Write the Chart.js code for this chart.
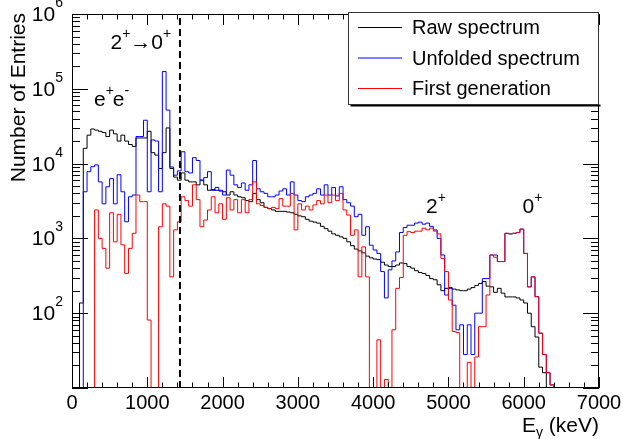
<!DOCTYPE html>
<html>
<head>
<meta charset="utf-8">
<title>Gamma spectrum</title>
<script src="https://cdn.jsdelivr.net/npm/chart.js"></script>
<style>
  html, body { margin: 0; padding: 0; background: #fff; }
  #wrap { width: 623px; height: 439px; }
</style>
</head>
<body>
<div id="wrap"><canvas id="spectrum" width="623" height="439"></canvas></div>
<script>
// ===================================
// DATA (50 keV bins, 0 - 7000 keV)
// ===================================

const binWidth = 50;
const seriesNames = ['Raw spectrum', 'Unfolded spectrum', 'First generation'];
const xTickLabels = [0, 1000, 2000, 3000, 4000, 5000, 6000, 7000];
const yTickExponents = [2, 3, 4, 5, 6];
const markerEnergy = 1434; // 2+ -> 0+ line

const rawCounts = [
  0, 0, 137, 16000, 24000, 29000, 28000, 27000, 26000, 23000,
  28000, 25000, 20000, 24000, 20000, 18000, 17000, 22000, 22000, 22000,
  27000, 14000, 13000, 8600, 14000, 30000, 8600, 6600, 6000, 7500,
  6000, 5700, 5700, 5200, 6000, 5200, 4400, 4500, 4400, 4300,
  4200, 3800, 4200, 3800, 3600, 3500, 3200, 3100, 4000, 3300,
  3000, 2600, 2500, 2400, 2300, 2300, 2300, 2250, 2200, 2100,
  2000, 1950, 1800, 1700, 1650, 1600, 1450, 1350, 1250, 1150,
  1100, 1050, 1000, 900, 800, 720, 680, 640, 580, 550,
  530, 520, 480, 440, 420, 420, 440, 470, 460, 420,
  400, 370, 350, 340, 320, 290, 280, 240, 200, 215,
  220, 210, 205, 200, 200, 210, 220, 235, 250, 265,
  230, 225, 190, 215, 185, 165, 165, 165, 160, 150,
  137, 100, 66, 48, 19, 16, 0, 0, 0, 0,
  0, 0, 0, 0, 0, 0, 0, 0, 0, 0
];

const unfoldedCounts = [
  0, 0, 0, 4200, 7800, 9100, 9600, 5700, 2900, 4900,
  6300, 2900, 7100, 4200, 1670, 3600, 3800, 23000, 23000, 38000,
  4200, 20700, 20000, 4200, 170000, 52000, 9000, 7000, 8000, 14400,
  7800, 7500, 12000, 11000, 6000, 6500, 7800, 4400, 4800, 4400,
  3800, 8200, 7000, 5200, 4800, 5500, 4400, 5200, 11000, 4600,
  4200, 4000, 3600, 3600, 3800, 4300, 4600, 3800, 5700, 3800,
  3200, 3100, 3600, 3800, 4000, 4600, 3800, 5200, 3800, 4800,
  3700, 4900, 3300, 3000, 2700, 1950, 2100, 1100, 1430, 810,
  700, 630, 360, 160, 380, 500, 660, 1200, 1400, 1500,
  1500, 1600, 1650, 1550, 1600, 1450, 1300, 1000, 600, 175,
  215, 128, 60, 70, 28, 70, 28, 100, 100, 290,
  290, 600, 600, 490, 490, 1170, 1150, 1170, 1200, 1330,
  630, 225, 306, 166, 54, 28, 16, 11, 0, 0,
  0, 0, 0, 0, 0, 0, 0, 0, 0, 0
];

const firstGenCounts = [
  0, 0, 0, 0, 0, 0, 2400, 1000, 735, 400,
  2200, 900, 2100, 820, 340, 735, 1170, 3800, 3100, 3100,
  81, 0, 0, 1430, 2900, 2700, 306, 1300, 1670, 3600,
  3200, 2700, 5200, 3300, 1430, 1760, 2400, 3600, 2200, 2900,
  1800, 3500, 2400, 3300, 2200, 3300, 2200, 3300, 5700, 2900,
  2750, 2600, 2500, 2600, 2500, 3400, 2700, 2700, 4000, 1300,
  2900, 2400, 2700, 2400, 2800, 3200, 2900, 3800, 3000, 3800,
  3200, 4000, 2400, 2050, 1100, 1300, 306, 770, 306, 0,
  0, 44, 0, 13, 0, 60, 215, 300, 1100, 1230,
  1200, 1250, 1250, 1370, 1300, 1370, 1250, 1150, 540, 360,
  150, 57, 55, 0, 0, 22, 0, 26, 66, 66,
  175, 600, 560, 490, 490, 1170, 1150, 1170, 1200, 1330,
  630, 225, 306, 166, 54, 28, 16, 11, 0, 0,
  0, 0, 0, 0, 0, 0, 0, 0, 0, 0
];

// ===================================
// HELPERS
// ===================================

const X_MAX = 7000;
const Y_MIN = 10;
const Y_MAX = 1e6;
const FONT = '"Liberation Sans", Arial, Helvetica, sans-serif';
const seriesColors = ['#000000', '#0000ff', '#ff0000'];

function font(px) {
  return px + 'px ' + FONT;
}

// histogram outline: one point per bin edge, empty bins sit on the axis floor like ROOT does
function toSteps(values) {
  const pts = values.map((v, i) => ({ x: i * binWidth, y: v > 0 ? v : Y_MIN }));
  pts.push({ x: values.length * binWidth, y: pts[pts.length - 1].y });
  return pts;
}

// draws [text, size, dy] pieces one after another (super/subscripts)
function drawRich(ctx, parts, x, y, align) {
  let w = 0;
  parts.forEach(p => {
    ctx.font = font(p[1]);
    w += ctx.measureText(p[0]).width + (p[3] || 0);
  });
  let cx = align === 'right' ? x - w : x;
  parts.forEach(p => {
    ctx.font = font(p[1]);
    ctx.fillText(p[0], cx, y + p[2]);
    cx += ctx.measureText(p[0]).width + (p[3] || 0);
  });
}

// ===================================
// ROOT-LIKE FRAME, AXES, LABELS, LEGEND
// ===================================

const rootStyle = {
  id: 'rootStyle',
  afterDatasetsDraw(chart) {
    const ctx = chart.ctx;
    const a = chart.chartArea;
    const xs = chart.scales.x;
    const ys = chart.scales.y;

    ctx.save();
    ctx.strokeStyle = '#000';
    ctx.fillStyle = '#000';
    ctx.lineWidth = 1;

    // dashed marker line
    const xm = xs.getPixelForValue(markerEnergy);
    ctx.save();
    ctx.lineWidth = 2;
    ctx.setLineDash([7, 4]);
    ctx.beginPath();
    ctx.moveTo(xm, a.bottom);
    ctx.lineTo(xm, a.top);
    ctx.stroke();
    ctx.restore();

    // frame
    ctx.strokeRect(a.left + 0.5, a.top + 0.5, a.right - a.left - 1, a.bottom - a.top - 1);

    // x ticks (major 1000, minor 200) on bottom and top
    ctx.beginPath();
    for (let v = 0; v <= X_MAX; v += 200) {
      const px = Math.round(xs.getPixelForValue(v)) + 0.5;
      const len = v % 1000 === 0 ? 11 : 5.5;
      ctx.moveTo(px, a.bottom);
      ctx.lineTo(px, a.bottom - len);
      ctx.moveTo(px, a.top);
      ctx.lineTo(px, a.top + len);
    }
    // y ticks (decades + 2..9) on left and right
    for (let e = 1; e <= 6; e++) {
      for (let m = 1; m <= 9; m++) {
        const v = m * Math.pow(10, e);
        if (v > Y_MAX) break;
        const py = Math.round(ys.getPixelForValue(v)) + 0.5;
        const len = m === 1 ? 16 : 8;
        ctx.moveTo(a.left, py);
        ctx.lineTo(a.left + len, py);
        ctx.moveTo(a.right, py);
        ctx.lineTo(a.right - len, py);
      }
    }
    ctx.stroke();

    // x tick labels
    ctx.font = font(20);
    ctx.textAlign = 'center';
    ctx.textBaseline = 'alphabetic';
    xTickLabels.forEach(v => {
      ctx.fillText(String(v), xs.getPixelForValue(v), 409);
    });

    // y tick labels 10^n
    ctx.textAlign = 'left';
    yTickExponents.forEach(n => {
      const py = ys.getPixelForValue(Math.pow(10, n));
      drawRich(ctx, [['10', 21, 0], [String(n), 14, -14]], 63, py + 7, 'right');
    });

    // axis titles
    drawRich(ctx, [['E', 21, 0], ['\u03b3', 14, 5], [' (keV)', 21, 0]], 599, 432, 'right');
    ctx.save();
    ctx.translate(25, 13);
    ctx.rotate(-Math.PI / 2);
    ctx.font = font(21);
    ctx.textAlign = 'right';
    ctx.fillText('Number of Entries', 0, 0);
    ctx.restore();

    // annotations
    drawRich(ctx, [['2', 21, 0], ['+', 14, -11], ['\u2192', 21, 0], ['0', 21, 0], ['+', 14, -11]], 110.5, 49);
    drawRich(ctx, [['e', 21, 0], ['+', 14, -11, -1], ['e', 21, 0], ['-', 14, -11]], 94, 106);
    drawRich(ctx, [['2', 21, 0], ['+', 14, -11]], 426, 213);
    drawRich(ctx, [['0', 21, 0], ['+', 14, -11]], 522.5, 213);

    // legend box
    const lx = 348.5, ly = 12.5, lw = 250, lh = 92;
    ctx.fillStyle = '#fff';
    ctx.fillRect(lx, ly, lw, lh);
    ctx.fillStyle = '#000';
    ctx.fillRect(lx + 2, ly + lh, lw, 2);
    ctx.strokeStyle = '#333';
    ctx.strokeRect(lx, ly, lw, lh);
    const rowsY = [27, 57.5, 88];
    ctx.font = font(20);
    ctx.textAlign = 'left';
    seriesNames.forEach((name, i) => {
      ctx.strokeStyle = seriesColors[i];
      ctx.beginPath();
      ctx.moveTo(358, rowsY[i] + 0.5);
      ctx.lineTo(402, rowsY[i] + 0.5);
      ctx.stroke();
      ctx.fillStyle = '#000';
      ctx.fillText(name, 412, rowsY[i] + 7);
    });

    ctx.restore();
  }
};

// ===================================
// CHART
// ===================================

function initSpectrum() {
  const canvas = document.getElementById('spectrum');
  const series = [rawCounts, unfoldedCounts, firstGenCounts];

  new Chart(canvas, {
    type: 'line',
    data: {
      datasets: series.map((values, i) => ({
        label: seriesNames[i],
        data: toSteps(values),
        borderColor: seriesColors[i],
        borderWidth: 1,
        stepped: 'before',
        pointRadius: 0,
        fill: false,
        order: 2 - i
      }))
    },
    options: {
      responsive: false,
      animation: false,
      devicePixelRatio: 1,
      layout: { padding: { left: 72, right: 24, top: 14, bottom: 51 } },
      plugins: {
        legend: { display: false },
        tooltip: { enabled: false }
      },
      scales: {
        x: { type: 'linear', min: 0, max: X_MAX, display: false },
        y: { type: 'logarithmic', min: Y_MIN, max: Y_MAX, display: false }
      }
    },
    plugins: [rootStyle]
  });
}

initSpectrum();
</script>
</body>
</html>
